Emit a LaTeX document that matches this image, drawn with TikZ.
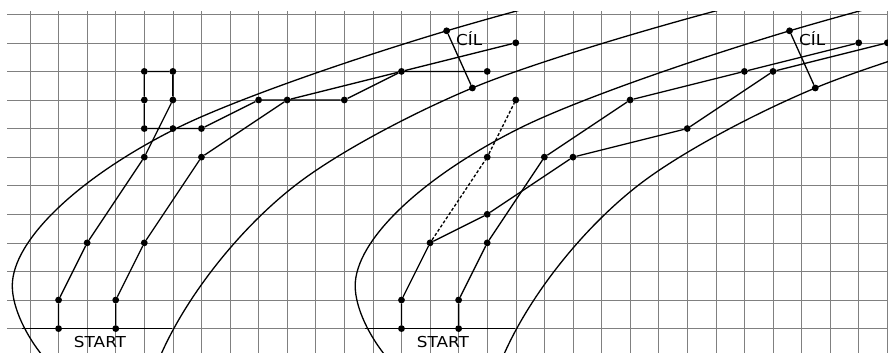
\documentclass[tikz,border=0pt]{standalone}
\usepackage{fontspec}
\setmainfont{DejaVu Sans}
\newfontfamily\lblfont[FakeStretch=1.12]{DejaVu Sans}
\begin{document}
\begin{tikzpicture}[
  gridline/.style={black!50, line width=0.55pt},
  track/.style={line width=1.3pt, black},
  route/.style={line width=1.3pt, black, line join=round},
  dashroute/.style={line width=1.3pt, black, dash pattern=on 3pt off 2pt},
  dot/.style={circle, fill=black, inner sep=0pt, minimum size=6.8pt},
  lbl/.style={font=\lblfont\fontsize{15}{18}\selectfont, anchor=base},
]
\useasboundingbox (-1.0498,-0.854) rectangle (30.025,11.499);
% grid
\foreach \j in {0,...,11} \draw[gridline] (-0.8,\j) -- (30.1,\j);
\foreach \i in {0,...,30} \draw[gridline] (\i,-0.9) -- (\i,11.11);
% track borders
\begin{scope}
\clip (-1.1,-0.9) rectangle (30.1,11.11);
\foreach \s in {0,12}{
  \begin{scope}[xshift=\s cm]
  \draw[track] (0.48,-1.0) .. controls (-0.1,-0.3) and (-0.62,0.7) .. (-0.62,1.5)
     .. controls (-0.62,3.08) and (1.68,5.285) .. (5.13,7.01)
     .. controls (6.855,7.8725) and (10.635,9.2365) .. (14.58,10.42)
     .. controls (15.6,10.72) and (16.6,11.0) .. (17.6,11.27);
  \draw[track] (4.5,-1.1) .. controls (5.419,1.106) and (7.399,3.602) .. (9.45,5.14)
     .. controls (10.809,6.159) and (13.221,7.471) .. (15.48,8.42)
     .. controls (17.07,9.088) and (20.466,10.164) .. (23.97,11.11)
     -- (24.6,11.28);
  \end{scope}}
\end{scope}
% ---- left track ----
\coordinate (sL1) at (-0.29,0);
\coordinate (sL2) at (4.96,0);
\node[dot] (a0) at (1,0) {};
\node[dot] (a1) at (1,1) {};
\node[dot] (a2) at (2,3) {};
\node[dot] (a3) at (4,6) {};
\node[dot] (a4) at (5,8) {};
\node[dot] (a5) at (5,9) {};
\node[dot] (a6) at (4,9) {};
\node[dot] (a7) at (4,8) {};
\node[dot] (a8) at (4,7) {};
\node[dot] (a9) at (5,7) {};
\node[dot] (a10) at (6,7) {};
\node[dot] (a11) at (8,8) {};
\node[dot] (a12) at (11,8) {};
\node[dot] (a13) at (13,9) {};
\node[dot] (a14) at (16,9) {};
\node[dot] (b0) at (3,0) {};
\node[dot] (b1) at (3,1) {};
\node[dot] (b2) at (4,3) {};
\node[dot] (b3) at (6,6) {};
\node[dot] (b4) at (9,8) {};
\node[dot] (b6) at (17,10) {};
\node[dot] (f1) at (14.58,10.42) {};
\node[dot] (f2) at (15.48,8.42) {};
\draw[route] (sL1) -- (sL2);
\draw[route] (a0) -- (a1) -- (a2) -- (a3) -- (a4) -- (a5) -- (a6) -- (a7) -- (a8) -- (a9) -- (a10) -- (a11) -- (a12) -- (a13) -- (a14);
\draw[route] (b0) -- (b1) -- (b2) -- (b3) -- (b4) -- (a13) -- (b6);
\draw[route] (f1) -- (f2);
\node[lbl] (startL) at (2.45,-0.654) {START};
\node[lbl] (cilL) at (15.37,9.89) {CÍL};
% ---- right track ----
\coordinate (sR1) at (11.71,0);
\coordinate (sR2) at (16.96,0);
\node[dot] (c0) at (13,0) {};
\node[dot] (c1) at (13,1) {};
\node[dot] (c2) at (14,3) {};
\node[dot] (c3) at (16,4) {};
\node[dot] (c4) at (19,6) {};
\node[dot] (c5) at (23,7) {};
\node[dot] (c6) at (26,9) {};
\node[dot] (c7) at (30,10) {};
\node[dot] (d0) at (15,0) {};
\node[dot] (d1) at (15,1) {};
\node[dot] (d2) at (16,3) {};
\node[dot] (d3) at (18,6) {};
\node[dot] (d4) at (21,8) {};
\node[dot] (d5) at (25,9) {};
\node[dot] (d6) at (29,10) {};
\node[dot] (e1) at (16,6) {};
\node[dot] (e2) at (17,8) {};
\node[dot] (g1) at (26.58,10.42) {};
\node[dot] (g2) at (27.48,8.42) {};
\draw[route] (sR1) -- (sR2);
\draw[route] (c0) -- (c1) -- (c2) -- (c3) -- (c4) -- (c5) -- (c6) -- (c7);
\draw[route] (d0) -- (d1) -- (d2) -- (d3) -- (d4) -- (d5) -- (d6);
\draw[dashroute] (c2) -- (e1) -- (e2);
\draw[route] (g1) -- (g2);
\node[lbl] (startR) at (14.45,-0.654) {START};
\node[lbl] (cilR) at (27.37,9.89) {CÍL};
\end{tikzpicture}
\end{document}
